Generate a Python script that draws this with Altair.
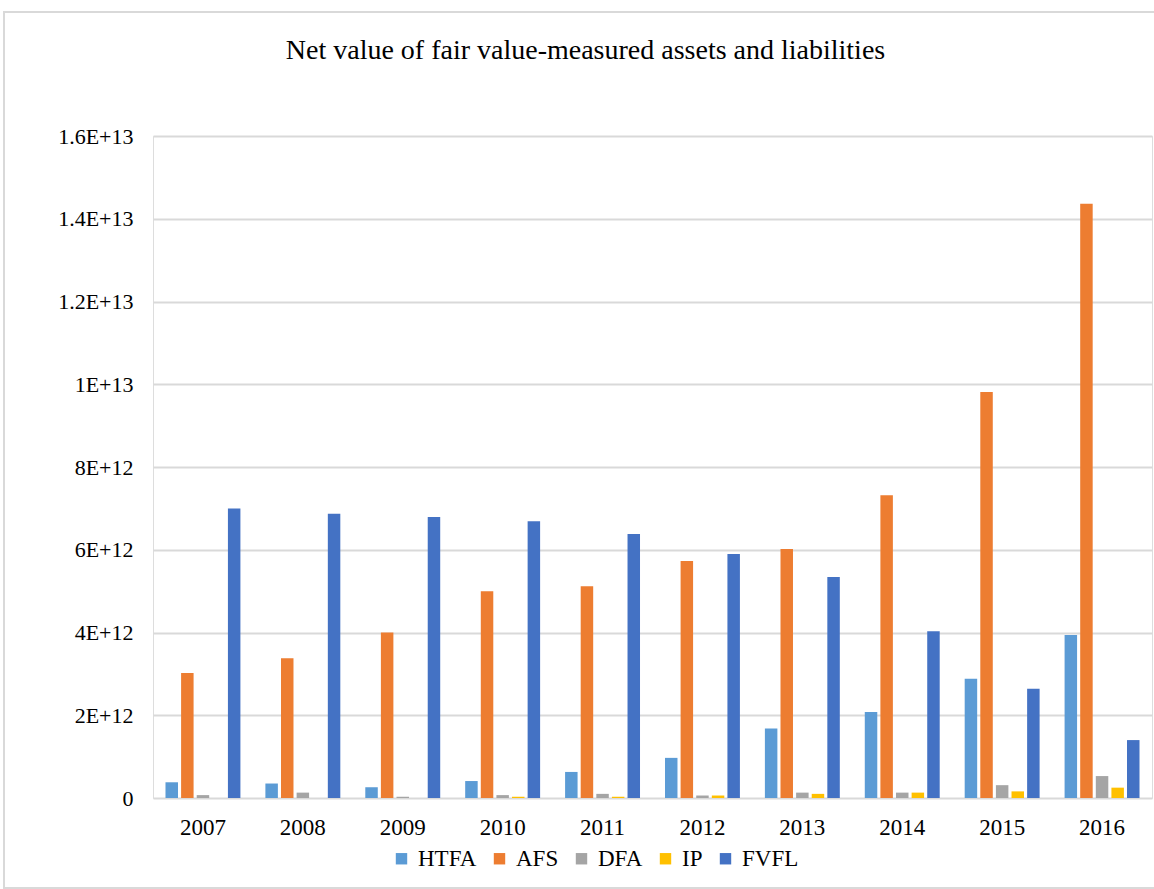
import altair as alt
import pandas as pd

years = ["2007", "2008", "2009", "2010", "2011", "2012", "2013", "2014", "2015", "2016"]
series = ["HTFA", "AFS", "DFA", "IP", "FVFL"]
htfa = [0.38e12, 0.35e12, 0.26e12, 0.41e12, 0.63e12, 0.97e12, 1.68e12, 2.08e12, 2.88e12, 3.94e12]
afs = [3.02e12, 3.38e12, 4.00e12, 5.00e12, 5.12e12, 5.73e12, 6.02e12, 7.32e12, 9.81e12, 14.36e12]
dfa = [0.07e12, 0.13e12, 0.03e12, 0.07e12, 0.10e12, 0.06e12, 0.13e12, 0.13e12, 0.31e12, 0.53e12]
ip = [0.0, 0.0, 0.0, 0.03e12, 0.03e12, 0.06e12, 0.10e12, 0.13e12, 0.16e12, 0.25e12]
fvfl = [7.00e12, 6.87e12, 6.79e12, 6.69e12, 6.38e12, 5.90e12, 5.34e12, 4.03e12, 2.64e12, 1.40e12]
colors = ["#5B9BD5", "#ED7D31", "#A5A5A5", "#FFC000", "#4472C4"]
y_ticks = [0, 2e12, 4e12, 6e12, 8e12, 10e12, 12e12, 14e12, 16e12]

rows = []
for name, vals in zip(series, [htfa, afs, dfa, ip, fvfl]):
    for y, v in zip(years, vals):
        rows.append({"year": y, "series": name, "value": v})
df = pd.DataFrame(rows)

FONT = "Liberation Serif"

bars = alt.Chart(df).mark_bar().encode(
    x=alt.X("year:N", sort=years, title=None,
            scale=alt.Scale(paddingInner=0.25, paddingOuter=0.125),
            axis=alt.Axis(labelAngle=0, labelFont=FONT, labelFontSize=23, labelColor="#000000",
                          labelPadding=18, ticks=False, domain=False, grid=False)),
    xOffset=alt.XOffset("series:N", sort=series, scale=alt.Scale(paddingInner=0.2, paddingOuter=0)),
    y=alt.Y("value:Q", title=None,
            scale=alt.Scale(domain=[0, 1.6e13], nice=False),
            axis=alt.Axis(values=y_ticks, labelFont=FONT, labelFontSize=22, labelColor="#000000",
                          labelPadding=20, ticks=False, domain=False, grid=True,
                          gridColor="#d9d9d9", gridWidth=2,
                          labelExpr="datum.value == 0 ? '0' : upper(format(datum.value, '~e'))")),
    color=alt.Color("series:N", sort=series,
                    scale=alt.Scale(domain=series, range=colors),
                    legend=alt.Legend(title=None, orient="none", direction="horizontal", columns=5,
                                      legendX=237, legendY=711, symbolType="square", symbolSize=130,
                                      symbolStrokeWidth=0, labelFont=FONT, labelFontSize=23,
                                      labelColor="#000000", columnPadding=11, labelOffset=5,
                                      padding=0)),
)

frame = alt.Chart(alt.Data(values=[{}])).mark_rect(
    fill=None, stroke="#d9d9d9", strokeWidth=2, clip=False
).encode(
    x=alt.value(-149), x2=alt.value(1010),
    y=alt.value(-124), y2=alt.value(752),
)

chart = alt.layer(frame, bars).properties(
    width=999, height=662,
    padding={"left": 153, "top": 136, "right": 2, "bottom": 91},
    autosize=alt.AutoSizeParams(type="none"),
    title=alt.TitleParams("Net value of fair value-measured assets and liabilities",
                          font=FONT, fontSize=28, fontWeight="normal", color="#000000",
                          anchor="middle", dx=-67, offset=-76, baseline="alphabetic"),
).configure_view(stroke=None).configure(background="#ffffff")

chart.save("out.html", embed_options={"renderer": "svg", "actions": False})
